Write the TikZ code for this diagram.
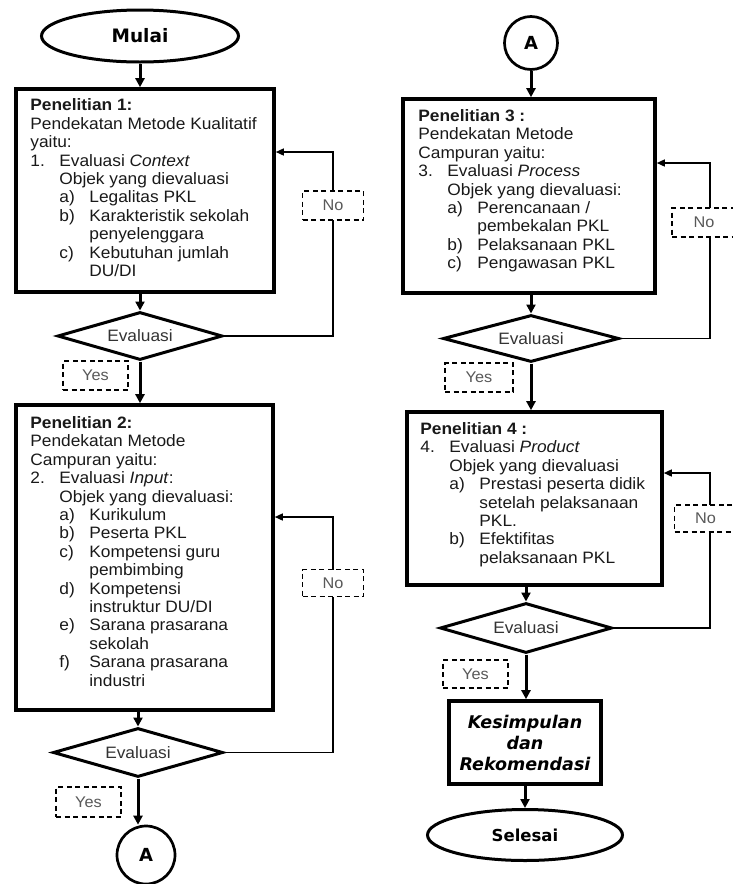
\documentclass[tikz,border=0pt]{standalone}
\usepackage{fontspec}
\setmainfont[FakeStretch=1.05]{Liberation Sans}
\newfontfamily\dvs{DejaVu Sans}
\usetikzlibrary{shapes.geometric,arrows.meta,calc}
\newcommand\itA[2]{\makebox[29pt][l]{#1}#2}
\newcommand\itB{\hspace*{29pt}}
\newcommand\itC[2]{\hspace*{29pt}\makebox[30pt][l]{#1}#2}
\newcommand\itD{\hspace*{59pt}}
\newcommand\fst{\rule{0pt}{13pt}}
\tikzset{
  pbox/.style={draw, line width=3.6pt, inner sep=0pt, fill=white},
  txt/.style={anchor=north west, inner sep=0pt, align=left, text=black!90,
    font=\fontsize{16.5}{18.4}\selectfont},
  dec/.style={diamond, aspect=3.5, draw, line width=3pt, inner sep=0pt, fill=white,
    text=black!80, font=\fontsize{16.5}{18}\selectfont},
  term/.style={ellipse, draw, line width=3pt, inner sep=0pt, fill=white,
    font=\dvs\bfseries\fontsize{18.5}{20}\selectfont},
  conn/.style={circle, draw, line width=2.7pt, inner sep=0pt, fill=white,
    font=\dvs\bfseries\fontsize{18}{20}\selectfont},
  lbl/.style={draw, dash pattern=on 5pt off 3.5pt, line width=1.4pt, fill=white,
    inner sep=0pt, text=black!65, font=\fontsize{15.5}{16}\selectfont},
  flow/.style={line width=3pt, -{Triangle[length=9pt,width=9pt]}},
  back/.style={line width=1.5pt, -{Triangle[length=8pt,width=7pt]}},
}
\begin{document}
\begin{tikzpicture}[x=1pt,y=-1pt]
\useasboundingbox[fill=white] (0,0) rectangle (733,884);

% ---------- left column ----------
\node[term, minimum width=197, minimum height=52] (mulai) at (140,36) {Mulai};
\node[pbox, minimum width=258, minimum height=203] (b1) at (145,190.5) {};
\node[txt] (t1) at ([xshift=16pt,yshift=-10.5pt]b1.north west) {%
\fst\textbf{Penelitian 1:}\\
Pendekatan Metode Kualitatif\\
yaitu:\\
\itA{1.}{Evaluasi \textit{Context}}\\
\itB Objek yang dievaluasi\\
\itC{a)}{Legalitas PKL}\\
\itC{b)}{Karakteristik sekolah}\\
\itD penyelenggara\\
\itC{c)}{Kebutuhan jumlah}\\
\itD DU/DI};
\node[dec, minimum width=165, minimum height=48] (d1) at (140,336) {Evaluasi};

\node[pbox, minimum width=257, minimum height=305] (b2) at (144.5,557.5) {};
\node[txt] (t2) at ([xshift=16pt,yshift=-12pt]b2.north west) {%
\fst\textbf{Penelitian 2:}\\
Pendekatan Metode\\
Campuran yaitu:\\
\itA{2.}{Evaluasi \textit{Input}:}\\
\itB Objek yang dievaluasi:\\
\itC{a)}{Kurikulum}\\
\itC{b)}{Peserta PKL}\\
\itC{c)}{Kompetensi guru}\\
\itD pembimbing\\
\itC{d)}{Kompetensi}\\
\itD instruktur DU/DI\\
\itC{e)}{Sarana prasarana}\\
\itD sekolah\\
\itC{f)}{Sarana prasarana}\\
\itD industri};
\node[dec, minimum width=170, minimum height=49] (d2) at (138,752.5) {Evaluasi};
\node[conn, minimum size=58] (a1) at (146,855) {A};

% ---------- right column ----------
\node[conn, minimum size=53] (a2) at (531,43) {A};
\node[pbox, minimum width=252, minimum height=194] (b3) at (529,196) {};
\node[txt] (t3) at ([xshift=17pt,yshift=-11pt]b3.north west) {%
\fst\textbf{Penelitian 3 :}\\
Pendekatan Metode\\
Campuran yaitu:\\
\itA{3.}{Evaluasi \textit{Process}}\\
\itB Objek yang dievaluasi:\\
\itC{a)}{Perencanaan /}\\
\itD pembekalan PKL\\
\itC{b)}{Pelaksanaan PKL}\\
\itC{c)}{Pengawasan PKL}};
\node[dec, minimum width=176, minimum height=47] (d3) at (531,338.5) {Evaluasi};

\node[pbox, minimum width=255, minimum height=173] (b4) at (534.5,498.5) {};
\node[txt] (t4) at ([xshift=15pt,yshift=-11pt]b4.north west) {%
\fst\textbf{Penelitian 4 :}\\
\itA{4.}{Evaluasi \textit{Product}}\\
\itB Objek yang dievaluasi\\
\itC{a)}{Prestasi peserta didik}\\
\itD setelah pelaksanaan\\
\itD PKL.\\
\itC{b)}{Efektifitas}\\
\itD pelaksanaan PKL};
\node[dec, minimum width=172, minimum height=50] (d4) at (526,628) {Evaluasi};
\node[pbox, minimum width=152, minimum height=83, align=center,
  font=\dvs\bfseries\itshape\fontsize{17.5}{21}\selectfont] (k) at (525,742.5)
  {Kesimpulan\\dan\\Rekomendasi};
\node[term, minimum width=195, minimum height=51,
  font=\dvs\bfseries\fontsize{16.5}{18}\selectfont] (sel) at (525,835) {Selesai};

% ---------- main flow ----------
\draw[flow] (mulai.south) -- (mulai.south |- b1.north);
\draw[flow] (d1.north |- b1.south) -- (d1.north);
\draw[flow] (d1.south) -- (d1.south |- b2.north);
\draw[flow] (d2.north |- b2.south) -- (d2.north);
\draw[flow] (d2.south) -- (d2.south |- a1.north);
\draw[flow] (a2.south) -- (a2.south |- b3.north);
\draw[flow] (d3.north |- b3.south) -- (d3.north);
\draw[flow] (d3.south) -- (d3.south |- b4.north);
\draw[flow] (d4.north |- b4.south) -- (d4.north);
\draw[flow] (d4.south) -- (d4.south |- k.north);
\draw[flow] (sel.north |- k.south) -- (sel.north);

% ---------- loops back ----------
\coordinate (c1) at (333,152);
\coordinate (c2) at (333,517);
\coordinate (c3) at (710,163);
\coordinate (c4) at (710,473);
\draw[back] (d1.east) -| (c1) -- (c1 -| b1.east);
\draw[back] (d2.east) -| (c2) -- (c2 -| b2.east);
\draw[back] (d3.east) -| (c3) -- (c3 -| b3.east);
\draw[back] (d4.east) -| (c4) -- (c4 -| b4.east);

% ---------- labels ----------
\node[lbl, minimum width=61, minimum height=29] (n1) at (333,205.5) {No};
\node[lbl, minimum width=65, minimum height=29] (y1) at (95.5,375.5) {Yes};
\node[lbl, minimum width=61, minimum height=27] (n2) at (333,583) {No};
\node[lbl, minimum width=65, minimum height=30] (y2) at (88.5,802) {Yes};
\node[lbl, minimum width=64, minimum height=29] (n3) at (704,222.5) {No};
\node[lbl, minimum width=68, minimum height=29] (y3) at (479,377.5) {Yes};
\node[lbl, minimum width=62, minimum height=27] (n4) at (705.5,518.5) {No};
\node[lbl, minimum width=65, minimum height=28] (y4) at (475.5,674) {Yes};
\end{tikzpicture}
\end{document}
